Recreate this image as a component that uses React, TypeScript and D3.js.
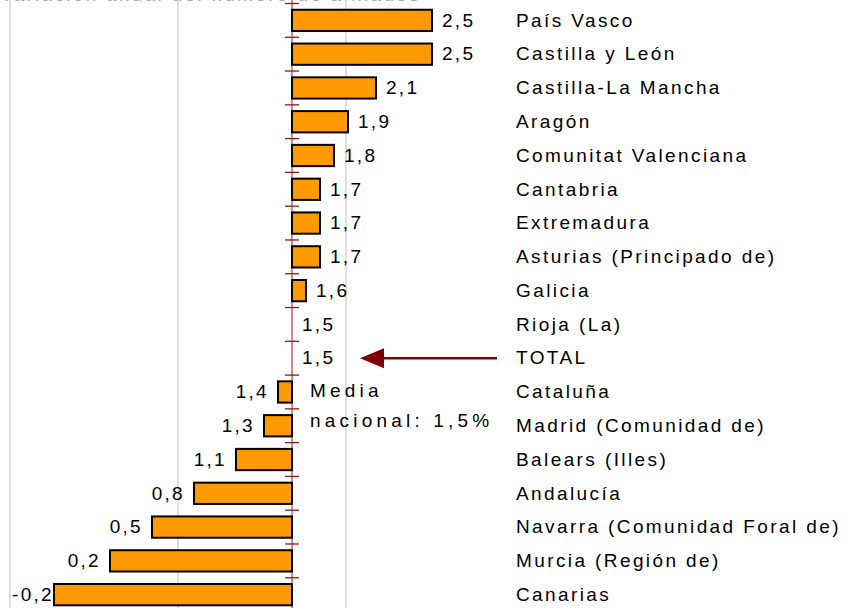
import * as React from "react"
import * as d3 from "d3"

const regions: string[] = [
    "País Vasco", "Castilla y León", "Castilla-La Mancha", "Aragón",
    "Comunitat Valenciana", "Cantabria", "Extremadura", "Asturias (Principado de)",
    "Galicia", "Rioja (La)", "TOTAL", "Cataluña", "Madrid (Comunidad de)",
    "Balears (Illes)", "Andalucía", "Navarra (Comunidad Foral de)",
    "Murcia (Región de)", "Canarias",
]
const values: number[] = [
    2.5, 2.5, 2.1, 1.9, 1.8, 1.7, 1.7, 1.7, 1.6, 1.5, 1.5,
    1.4, 1.3, 1.1, 0.8, 0.5, 0.2, -0.2,
]
const nationalMean = 1.5
const gridValues: number[] = [-0.514, 0.686, 1.886]
const meanLabel: string[] = ["Media", "nacional: 1,5%"]
const title = "Variación anual del número de afiliados"

const W = 853
const H = 608
const FONT = "'Liberation Sans', Arial, sans-serif"

const fmt = (v: number): string => d3.format(".1f")(v).replace(".", ",").replace("\u2212", "-")

export default function App(): JSX.Element {
    const x = d3.scaleLinear().domain([nationalMean, 2.5]).range([292, 432])
    const y = d3.scaleBand<string>().domain(regions).range([3.5, 3.5 + 33.78 * regions.length]).paddingInner(0.37).paddingOuter(0.185)
    const step = y.step()
    const bandTop = (r: string): number => (y(r) as number) - y.paddingInner() * step / 2
    const axisX = x(nationalMean)
    const totalY = (y("TOTAL") as number) + y.bandwidth() / 2

    return (
        <svg width={W} height={H} style={{ position: "absolute", left: 0, top: 0, background: "#fff" }}
            fontFamily={FONT}>
            {/* title, cut off at the top edge as in the source */}
            <text x={0} y={0.5} fontSize={19} fill="#aaa" letterSpacing={2.3}>{title}</text>

            {/* grid */}
            {gridValues.map((g, i) => (
                <line key={i} x1={x(g)} x2={x(g)} y1={0} y2={H} stroke="#d4d4d4" strokeWidth={1.5} />
            ))}

            {/* axis at the national mean */}
            <line x1={axisX} x2={axisX} y1={0} y2={H} stroke="#b46a6a" strokeWidth={1.5} />
            {regions.map((r, i) => (
                <line key={i} x1={axisX - 7} x2={axisX + 7} y1={bandTop(r)} y2={bandTop(r)}
                    stroke="#8b1a1a" strokeWidth={1.3} />
            ))}

            {/* bars */}
            {regions.map((r, i) => {
                const v = values[i]
                if (v === nationalMean) return null
                const x0 = Math.min(x(v), axisX)
                return (
                    <rect key={r} x={x0} y={y(r)} width={Math.abs(x(v) - axisX)} height={y.bandwidth()}
                        fill="#ff9900" stroke="#000" strokeWidth={2} />
                )
            })}

            {/* value labels */}
            {regions.map((r, i) => {
                const v = values[i]
                const cy = (y(r) as number) + y.bandwidth() / 2
                const neg = v < nationalMean
                const lx = neg ? Math.max(x(v) - 9, 54) : x(v) + 10
                return (
                    <text key={r} x={lx} y={cy} dy="0.33em" fontSize={19} letterSpacing={2.3}
                        textAnchor={neg ? "end" : "start"} fill="#000">{fmt(v)}</text>
                )
            })}

            {/* category labels */}
            {regions.map((r) => (
                <text key={r} x={516} y={(y(r) as number) + y.bandwidth() / 2} dy="0.33em"
                    fontSize={19} letterSpacing={2.4} fill="#000">{r}</text>
            ))}

            {/* mean annotation */}
            <line x1={380} x2={497} y1={totalY} y2={totalY} stroke="#800000" strokeWidth={2.5} />
            <path d={`M360,${totalY} L384,${totalY - 10} L384,${totalY + 10} Z`} fill="#800000" />
            {meanLabel.map((t, i) => (
                <text key={i} x={310} y={397 + i * 30} fontSize={19} letterSpacing={4.2} fill="#000">{t}</text>
            ))}
        </svg>
    )
}
